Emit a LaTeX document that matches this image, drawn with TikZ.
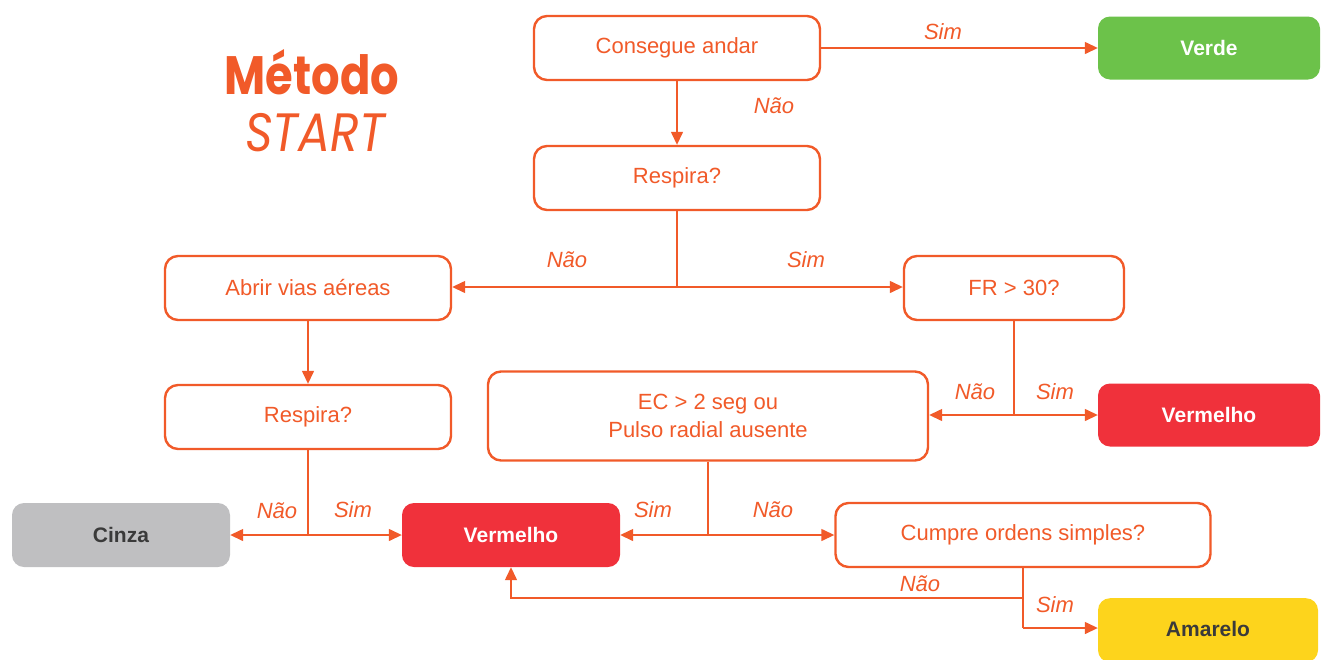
\documentclass[tikz,border=0pt]{standalone}
\usepackage{fontspec}
\setmainfont{Liberation Sans}
\newfontfamily\titlefont{Poppins}
\usetikzlibrary{arrows.meta,calc}
\definecolor{org}{HTML}{F15A29}
\definecolor{redc}{HTML}{F0313B}
\definecolor{greyc}{HTML}{BFBFC1}
\definecolor{yelc}{HTML}{FDD41C}
\definecolor{grnc}{HTML}{6CC24A}
\definecolor{darktxt}{HTML}{3A3A3A}
\tikzset{
  qbox/.style={draw=org, line width=2.4pt, rounded corners=13pt, fill=white, text=org,
    font=\fontsize{22}{28}\selectfont, align=center, inner sep=0pt},
  fbox/.style={rounded corners=12pt, inner sep=0pt, font=\fontsize{21}{25}\selectfont\bfseries},
  conn/.style={draw=org, line width=1.4pt, -{Triangle[length=13pt,width=12pt]}},
  plain/.style={draw=org, line width=1.4pt},
  lbl/.style={text=org, font=\fontsize{22}{26}\selectfont\itshape, inner sep=0pt}
}
\begin{document}
\begin{tikzpicture}[x=1pt,y=-1pt]
\useasboundingbox (0,0) rectangle (1325,659);
% title
\node[text=org, font=\titlefont\fontsize{54}{60}\selectfont\bfseries, xscale=0.83] (t1) at (312,72) {Método};
\node[text=org, font=\titlefont\fontsize{54}{60}\selectfont\itshape, xscale=0.88] (t2) at (315,133) {START};
% boxes
\node[qbox, minimum width=286pt, minimum height=64pt] (cons) at (677,48) {Consegue andar};
\node[fbox, fill=grnc, text=white, minimum width=222pt, minimum height=63pt] (verde) at (1209,48) {Verde};
\node[qbox, minimum width=286pt, minimum height=64pt] (resp1) at (677,178) {Respira?};
\node[qbox, minimum width=286pt, minimum height=64pt] (abrir) at (308,288) {Abrir vias aéreas};
\node[qbox, minimum width=220pt, minimum height=64pt] (fr) at (1014,288) {FR > 30?};
\node[qbox, minimum width=286pt, minimum height=64pt] (resp2) at (308,417) {Respira?};
\node[qbox, minimum width=440pt, minimum height=89pt] (ec) at (708,416) {EC > 2 seg ou\\Pulso radial ausente};
\node[fbox, fill=redc, text=white, minimum width=222pt, minimum height=63pt] (verm1) at (1209,415) {Vermelho};
\node[fbox, fill=greyc, text=darktxt, minimum width=218pt, minimum height=64pt] (cinza) at (121,535) {Cinza};
\node[fbox, fill=redc, text=white, minimum width=218pt, minimum height=64pt] (verm2) at (511,535) {Vermelho};
\node[qbox, minimum width=375pt, minimum height=64pt] (cumpre) at (1023,535) {Cumpre ordens simples?};
\node[fbox, fill=yelc, text=darktxt, minimum width=220pt, minimum height=64pt, anchor=north] (amar) at (1208,598) {};
\node[text=darktxt, font=\fontsize{21}{25}\selectfont\bfseries] (amart) at (1208,629) {Amarelo};
% junctions
\coordinate (j1) at (677,287);
\coordinate (j2) at (1014,415);
\coordinate (j3) at (308,535);
\coordinate (j4) at (708,535);
\coordinate (j5) at (1023,628);
\coordinate (j6) at (1023,598);
\coordinate (j7) at (511,598);
% connectors
\draw[conn] (cons.east) -- (verde.west);
\draw[conn] (cons.south) -- (resp1.north);
\draw[plain] (resp1.south) -- (j1);
\draw[conn] (j1) -- (j1 -| abrir.east);
\draw[conn] (j1) -- (j1 -| fr.west);
\draw[conn] (abrir.south) -- (resp2.north);
\draw[plain] (fr.south) -- (j2);
\draw[conn] (j2) -- (j2 -| ec.east);
\draw[conn] (j2) -- (j2 -| verm1.west);
\draw[plain] (resp2.south) -- (j3);
\draw[conn] (j3) -- (j3 -| cinza.east);
\draw[conn] (j3) -- (j3 -| verm2.west);
\draw[plain] (ec.south) -- (j4);
\draw[conn] (j4) -- (j4 -| verm2.east);
\draw[conn] (j4) -- (j4 -| cumpre.west);
\draw[plain] (cumpre.south) -- (j5);
\draw[conn] (j5) -- (j5 -| amar.west);
\draw[conn] (j6) -- (j7) -- (verm2.south);
% labels
\node[lbl] (l1) at (943,32) {Sim};
\node[lbl] (l2) at (774,106) {Não};
\node[lbl] (l3) at (567,260) {Não};
\node[lbl] (l4) at (806,260) {Sim};
\node[lbl] (l5) at (975,392) {Não};
\node[lbl] (l6) at (1055,392) {Sim};
\node[lbl] (l7) at (277,511) {Não};
\node[lbl] (l8) at (353,510) {Sim};
\node[lbl] (l9) at (653,510) {Sim};
\node[lbl] (l10) at (773,510) {Não};
\node[lbl] (l11) at (920,584) {Não};
\node[lbl] (l12) at (1055,605) {Sim};
\end{tikzpicture}
\end{document}
